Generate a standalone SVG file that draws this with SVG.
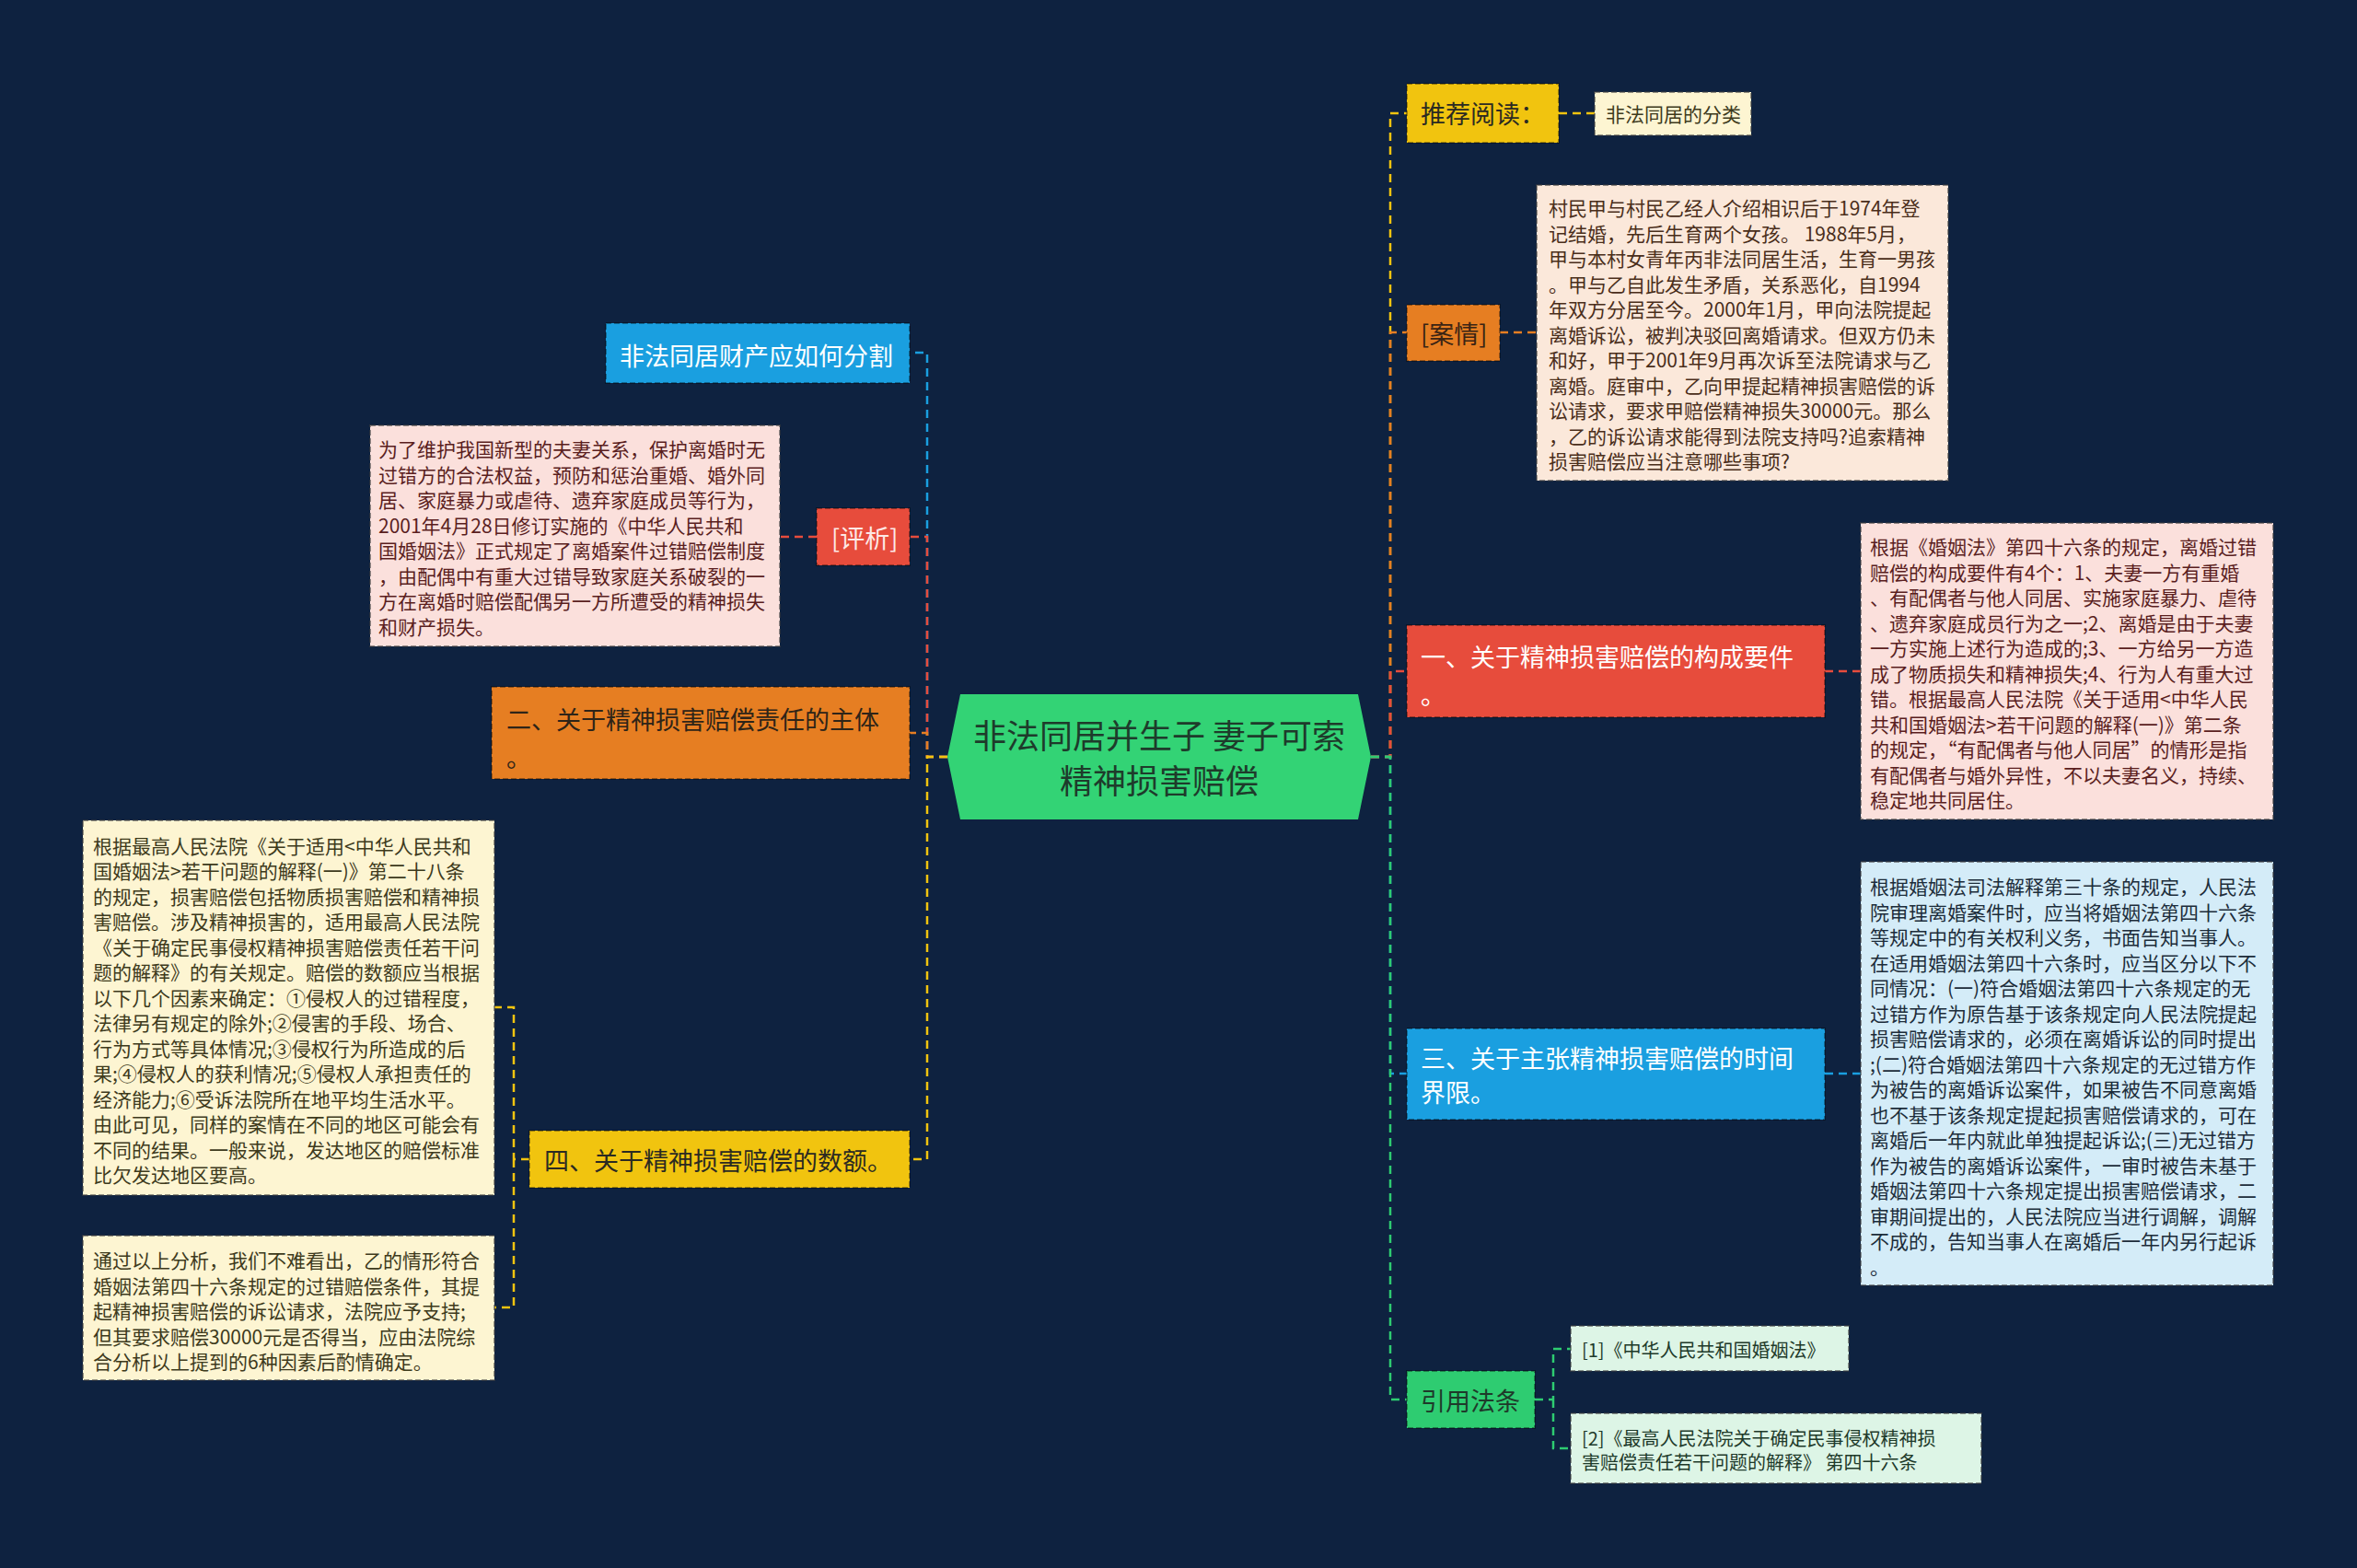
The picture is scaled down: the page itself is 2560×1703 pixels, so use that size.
<svg xmlns="http://www.w3.org/2000/svg" width="2560" height="1703" viewBox="0 0 2560 1703">
<style>
text{font-family:"Noto Sans CJK SC","Noto Sans",sans-serif;dominant-baseline:central}
.c{fill:none;stroke-width:2.5;stroke-dasharray:9 6}
.bd{stroke:rgba(0,0,0,0.35);stroke-width:2;stroke-dasharray:6 3}
.tb{stroke:rgba(60,60,60,0.55);stroke-width:2;stroke-dasharray:6 3}
.t27{font-size:27px}
.t21{font-size:21px}
.w{fill:#ffffff}
.dk{fill:#2b2a22}
.pk{fill:#fbe0dc}.pkt{fill:#5a1e1e}
.pe{fill:#fbe8da}.pet{fill:#4a2e1a}
.cr{fill:#fdf5d2}.crt{fill:#3d3a1c}
.lb{fill:#d4ecf8}.lbt{fill:#1c2c3a}
.lg{fill:#ddf5e6}.lgt{fill:#1e3a2a}
</style>
<rect width="2560" height="1703" fill="#0e2240"/>
<g id="connectors">
<path class="c" stroke="#1a9fe0" d="M1029 822H1007V383H988"/>
<path class="c" stroke="#e74c3c" d="M1029 822H1007V583H988"/>
<path class="c" stroke="#e67e22" d="M1029 822H1007V796H988"/>
<path class="c" stroke="#f1c40f" d="M1029 822H1007V1259H988"/>
<path class="c" stroke="#e74c3c" d="M887 583H847"/>
<path class="c" stroke="#f1c40f" d="M575 1259H558V1094H537M558 1259V1420H537"/>
<path class="c" stroke="#f1c40f" d="M1489 822H1510V123H1528"/>
<path class="c" stroke="#e67e22" d="M1489 822H1510V361H1528"/>
<path class="c" stroke="#e74c3c" d="M1489 822H1510V729H1528"/>
<path class="c" stroke="#1a9fe0" d="M1489 822H1510V1166H1528"/>
<path class="c" stroke="#2ecc71" d="M1489 822H1510V1520H1528"/>
<path class="c" stroke="#f1c40f" d="M1693 123H1732"/>
<path class="c" stroke="#e67e22" d="M1629 361H1669"/>
<path class="c" stroke="#e74c3c" d="M1982 729H2021"/>
<path class="c" stroke="#1a9fe0" d="M1982 1166H2021"/>
<path class="c" stroke="#2ecc71" d="M1667 1520H1687V1465H1706M1687 1520V1573H1706"/>
</g>
<g id="center">
<polygon points="1043,754 1475,754 1489,822 1475,890 1043,890 1029,822" fill="#33d375"/>
<text x="1259" y="797" font-size="36" text-anchor="middle" fill="#1e3b2b">非法同居并生子 妻子可索</text>
<text x="1259" y="846" font-size="36" text-anchor="middle" fill="#1e3b2b">精神损害赔偿</text>
</g>
<g id="n-caichan">
<rect x="658" y="351" width="330" height="65" fill="#1a9fe0" class="bd"/>
<text x="673" y="385" class="t27 w">非法同居财产应如何分割</text>
</g>
<g id="n-pingxi">
<rect x="887" y="552" width="101" height="62" fill="#e74c3c" class="bd"/>
<text x="903" y="583" class="t27" fill="#fde8e6">[评析]</text>
</g>
<g id="n-pingxi-text">
<rect x="402" y="462" width="445" height="240" class="pk tb"/>
<g class="t21 pkt">
<text x="411" y="487">为了维护我国新型的夫妻关系，保护离婚时无</text>
<text x="411" y="514.5">过错方的合法权益，预防和惩治重婚、婚外同</text>
<text x="411" y="542">居、家庭暴力或虐待、遗弃家庭成员等行为，</text>
<text x="411" y="569.5">2001年4月28日修订实施的《中华人民共和</text>
<text x="411" y="597">国婚姻法》正式规定了离婚案件过错赔偿制度</text>
<text x="411" y="624.5">，由配偶中有重大过错导致家庭关系破裂的一</text>
<text x="411" y="652">方在离婚时赔偿配偶另一方所遭受的精神损失</text>
<text x="411" y="679.5">和财产损失。</text>
</g>
</g>
<g id="n-zhuti">
<rect x="534" y="746" width="454" height="100" fill="#e67e22" class="bd"/>
<text x="550" y="780" class="t27" fill="#2e2418">二、关于精神损害赔偿责任的主体</text>
<text x="550" y="821" class="t27" fill="#2e2418">。</text>
</g>
<g id="n-shue">
<rect x="575" y="1228" width="413" height="62" fill="#f1c40f" class="bd"/>
<text x="591" y="1259" class="t27 dk">四、关于精神损害赔偿的数额。</text>
</g>
<g id="n-shue-text1">
<rect x="90" y="891" width="447" height="407" class="cr tb"/>
<g class="t21 crt">
<text x="101" y="917.5">根据最高人民法院《关于适用&lt;中华人民共和</text>
<text x="101" y="945">国婚姻法&gt;若干问题的解释(一)》第二十八条</text>
<text x="101" y="972.5">的规定，损害赔偿包括物质损害赔偿和精神损</text>
<text x="101" y="1000">害赔偿。涉及精神损害的，适用最高人民法院</text>
<text x="101" y="1027.5">《关于确定民事侵权精神损害赔偿责任若干问</text>
<text x="101" y="1055">题的解释》的有关规定。赔偿的数额应当根据</text>
<text x="101" y="1082.5">以下几个因素来确定：①侵权人的过错程度，</text>
<text x="101" y="1110">法律另有规定的除外;②侵害的手段、场合、</text>
<text x="101" y="1137.5">行为方式等具体情况;③侵权行为所造成的后</text>
<text x="101" y="1165">果;④侵权人的获利情况;⑤侵权人承担责任的</text>
<text x="101" y="1192.5">经济能力;⑥受诉法院所在地平均生活水平。</text>
<text x="101" y="1220">由此可见，同样的案情在不同的地区可能会有</text>
<text x="101" y="1247.5">不同的结果。一般来说，发达地区的赔偿标准</text>
<text x="101" y="1275">比欠发达地区要高。</text>
</g>
</g>
<g id="n-shue-text2">
<rect x="90" y="1342" width="447" height="157" class="cr tb"/>
<g class="t21 crt">
<text x="101" y="1368">通过以上分析，我们不难看出，乙的情形符合</text>
<text x="101" y="1395.5">婚姻法第四十六条规定的过错赔偿条件，其提</text>
<text x="101" y="1423">起精神损害赔偿的诉讼请求，法院应予支持;</text>
<text x="101" y="1450.5">但其要求赔偿30000元是否得当，应由法院综</text>
<text x="101" y="1478">合分析以上提到的6种因素后酌情确定。</text>
</g>
</g>
<g id="n-tuijian">
<rect x="1528" y="91" width="165" height="64" fill="#f1c40f" class="bd"/>
<text x="1543" y="122" class="t27 dk">推荐阅读：</text>
</g>
<g id="n-fenlei">
<rect x="1732" y="100" width="170" height="47" class="cr tb"/>
<text x="1744" y="123" class="t21 crt">非法同居的分类</text>
</g>
<g id="n-anqing">
<rect x="1528" y="331" width="101" height="61" fill="#e67e22" class="bd"/>
<text x="1543" y="361" class="t27" fill="#3a2414">[案情]</text>
</g>
<g id="n-anqing-text">
<rect x="1669" y="201" width="447" height="321" class="pe tb"/>
<g class="t21 pet">
<text x="1682" y="225">村民甲与村民乙经人介绍相识后于1974年登</text>
<text x="1682" y="252.5">记结婚，先后生育两个女孩。 1988年5月，</text>
<text x="1682" y="280">甲与本村女青年丙非法同居生活，生育一男孩</text>
<text x="1682" y="307.5">。甲与乙自此发生矛盾，关系恶化，自1994</text>
<text x="1682" y="335">年双方分居至今。2000年1月，甲向法院提起</text>
<text x="1682" y="362.5">离婚诉讼，被判决驳回离婚请求。但双方仍未</text>
<text x="1682" y="390">和好，甲于2001年9月再次诉至法院请求与乙</text>
<text x="1682" y="417.5">离婚。庭审中，乙向甲提起精神损害赔偿的诉</text>
<text x="1682" y="445">讼请求，要求甲赔偿精神损失30000元。那么</text>
<text x="1682" y="472.5">，乙的诉讼请求能得到法院支持吗?追索精神</text>
<text x="1682" y="500">损害赔偿应当注意哪些事项?</text>
</g>
</g>
<g id="n-goucheng">
<rect x="1528" y="679" width="454" height="100" fill="#e74c3c" class="bd"/>
<text x="1543" y="712" class="t27 w">一、关于精神损害赔偿的构成要件</text>
<text x="1543" y="753" class="t27 w">。</text>
</g>
<g id="n-goucheng-text">
<rect x="2021" y="568" width="448" height="322" class="pk tb"/>
<g class="t21 pkt">
<text x="2031" y="593">根据《婚姻法》第四十六条的规定，离婚过错</text>
<text x="2031" y="620.5">赔偿的构成要件有4个：1、夫妻一方有重婚</text>
<text x="2031" y="648">、有配偶者与他人同居、实施家庭暴力、虐待</text>
<text x="2031" y="675.5">、遗弃家庭成员行为之一;2、离婚是由于夫妻</text>
<text x="2031" y="703">一方实施上述行为造成的;3、一方给另一方造</text>
<text x="2031" y="730.5">成了物质损失和精神损失;4、行为人有重大过</text>
<text x="2031" y="758">错。根据最高人民法院《关于适用&lt;中华人民</text>
<text x="2031" y="785.5">共和国婚姻法&gt;若干问题的解释(一)》第二条</text>
<text x="2031" y="813">的规定，“有配偶者与他人同居”的情形是指</text>
<text x="2031" y="840.5">有配偶者与婚外异性，不以夫妻名义，持续、</text>
<text x="2031" y="868">稳定地共同居住。</text>
</g>
</g>
<g id="n-shijian">
<rect x="1528" y="1117" width="454" height="99" fill="#1a9fe0" class="bd"/>
<text x="1543" y="1148" class="t27 w">三、关于主张精神损害赔偿的时间</text>
<text x="1543" y="1185" class="t27 w">界限。</text>
</g>
<g id="n-shijian-text">
<rect x="2021" y="936" width="448" height="460" class="lb tb"/>
<g class="t21 lbt">
<text x="2031" y="962">根据婚姻法司法解释第三十条的规定，人民法</text>
<text x="2031" y="989.5">院审理离婚案件时，应当将婚姻法第四十六条</text>
<text x="2031" y="1017">等规定中的有关权利义务，书面告知当事人。</text>
<text x="2031" y="1044.5">在适用婚姻法第四十六条时，应当区分以下不</text>
<text x="2031" y="1072">同情况：(一)符合婚姻法第四十六条规定的无</text>
<text x="2031" y="1099.5">过错方作为原告基于该条规定向人民法院提起</text>
<text x="2031" y="1127">损害赔偿请求的，必须在离婚诉讼的同时提出</text>
<text x="2031" y="1154.5">;(二)符合婚姻法第四十六条规定的无过错方作</text>
<text x="2031" y="1182">为被告的离婚诉讼案件，如果被告不同意离婚</text>
<text x="2031" y="1209.5">也不基于该条规定提起损害赔偿请求的，可在</text>
<text x="2031" y="1237">离婚后一年内就此单独提起诉讼;(三)无过错方</text>
<text x="2031" y="1264.5">作为被告的离婚诉讼案件，一审时被告未基于</text>
<text x="2031" y="1292">婚姻法第四十六条规定提出损害赔偿请求，二</text>
<text x="2031" y="1319.5">审期间提出的，人民法院应当进行调解，调解</text>
<text x="2031" y="1347">不成的，告知当事人在离婚后一年内另行起诉</text>
<text x="2031" y="1374.5">。</text>
</g>
</g>
<g id="n-fatiao">
<rect x="1528" y="1489" width="139" height="62" fill="#2ecc71" class="bd"/>
<text x="1543" y="1520" class="t27" fill="#1e3a2a">引用法条</text>
</g>
<g id="n-fatiao-1">
<rect x="1706" y="1440" width="302" height="49" class="lg tb"/>
<text x="1718" y="1465" font-size="20" class="lgt">[1]《中华人民共和国婚姻法》</text>
</g>
<g id="n-fatiao-2">
<rect x="1706" y="1535" width="446" height="76" class="lg tb"/>
<text x="1718" y="1561" font-size="20" class="lgt">[2]《最高人民法院关于确定民事侵权精神损</text>
<text x="1718" y="1587" font-size="20" class="lgt">害赔偿责任若干问题的解释》 第四十六条</text>
</g>
</svg>
